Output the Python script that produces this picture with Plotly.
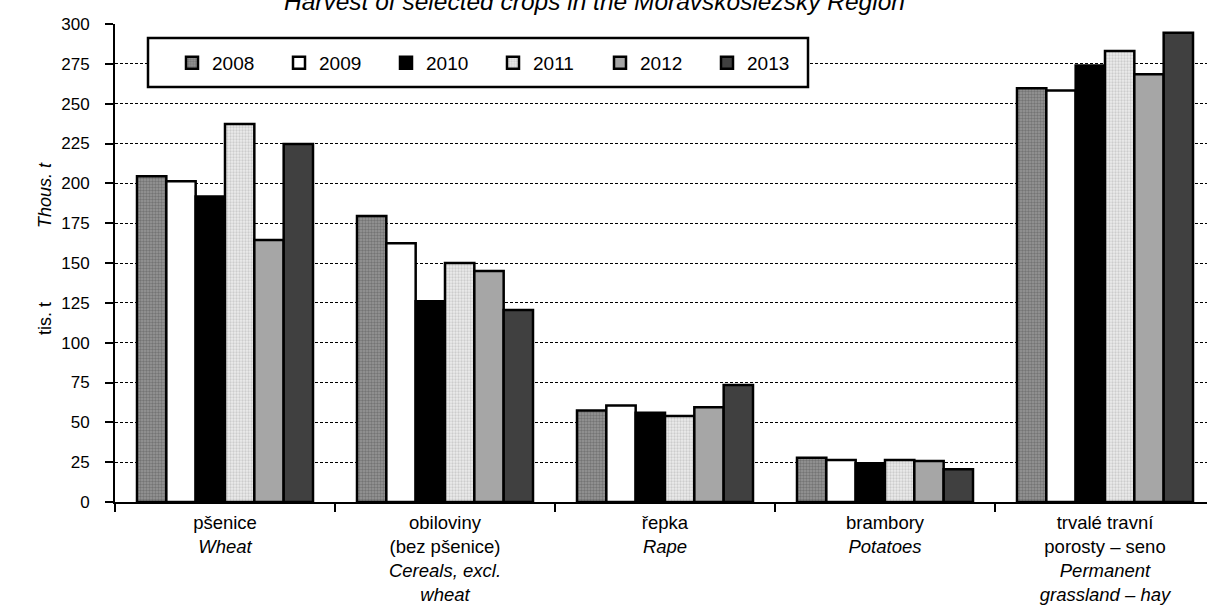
import plotly.graph_objects as go

categories = [
    "pšenice<br><i>Wheat</i>",
    "obiloviny<br>(bez pšenice)<br><i>Cereals, excl.</i><br><i>wheat</i>",
    "řepka<br><i>Rape</i>",
    "brambory<br><i>Potatoes</i>",
    "trvalé travní<br>porosty – seno<br><i>Permanent</i><br><i>grassland – hay</i>",
]
years = ["2008", "2009", "2010", "2011", "2012", "2013"]
v2008 = [204.5, 179.5, 57.5, 27.8, 259.7]
v2009 = [201.3, 162.4, 60.5, 26.4, 258.2]
v2010 = [191.7, 126.0, 56.0, 24.3, 273.9]
v2011 = [237.3, 150.0, 54.0, 26.4, 283.0]
v2012 = [164.5, 145.0, 59.5, 25.7, 268.5]
v2013 = [224.7, 120.5, 73.5, 20.5, 294.5]
series = [v2008, v2009, v2010, v2011, v2012, v2013]

styles = [
    dict(color="#8a8a8a", pattern=dict(shape=".", fgcolor="#505050", bgcolor="#989898", size=3, solidity=0.5)),
    dict(color="#ffffff"),
    dict(color="#000000"),
    dict(color="#e4e4e4", pattern=dict(shape=".", fgcolor="#acacac", bgcolor="#ececec", size=3, solidity=0.45)),
    dict(color="#a6a6a6"),
    dict(color="#404040"),
]

FONT = "Liberation Sans, Arial, sans-serif"
L, T, B, W, H = 115, 24, 106, 1207, 608
PW = W - L
PH = H - T - B

def px_x(x):
    return (x - L) / PW

def px_y(y):
    return (H - B - y) / PH

fig = go.Figure()
for y, vals, st in zip(years, series, styles):
    marker = dict(color=st["color"], line=dict(color="black", width=2.5))
    if "pattern" in st:
        marker["pattern"] = st["pattern"]
    fig.add_trace(go.Bar(name=y, x=categories, y=vals, marker=marker))

fig.update_layout(
    width=W, height=H,
    margin=dict(l=L, r=0, t=T, b=B, autoexpand=False),
    paper_bgcolor="white", plot_bgcolor="white",
    barmode="group", bargap=0.2, bargroupgap=0,
    font=dict(family=FONT, size=16, color="black"),
    showlegend=True,
    legend=dict(
        orientation="h", x=px_x(172), y=px_y(63), xanchor="left", yanchor="middle",
        entrywidth=62, entrywidthmode="pixels", itemwidth=30,
        bgcolor="rgba(0,0,0,0)", borderwidth=0,
        font=dict(family=FONT, size=19, color="black"),
        traceorder="normal",
    ),
    shapes=[dict(type="rect", xref="paper", yref="paper",
                 x0=px_x(148), x1=px_x(808), y0=px_y(87), y1=px_y(38),
                 line=dict(color="black", width=2.5), fillcolor="white", layer="above")],
    annotations=[
        dict(text="<i>Harvest of selected crops in the Moravskoslezský Region</i>",
             xref="paper", yref="paper", x=px_x(594), y=1, yanchor="middle",
             xanchor="center", yshift=T - 1, showarrow=False,
             font=dict(family=FONT, size=24.5, color="black")),
        dict(text="tis. t", xref="paper", yref="paper", x=px_x(45), xanchor="center",
             y=px_y(319), yanchor="middle", textangle=-90, showarrow=False,
             font=dict(family=FONT, size=18, color="black")),
        dict(text="<i>Thous. t</i>", xref="paper", yref="paper", x=px_x(45), xanchor="center",
             y=px_y(195), yanchor="middle", textangle=-90, showarrow=False,
             font=dict(family=FONT, size=18, color="black")),
    ],
)

fig.update_xaxes(
    range=[-0.5, -0.5 + PW / 220], automargin=False,
    showline=True, linecolor="black", linewidth=2,
    tickson="boundaries", ticks="outside", ticklen=8, tickcolor="black", tickwidth=1.5,
    showgrid=False, tickfont=dict(family=FONT, size=18.5),
    tickangle=0, ticklabelstandoff=3,
)
fig.update_yaxes(
    range=[0, 300], tick0=0, dtick=25, automargin=False,
    showline=True, linecolor="black", linewidth=2,
    ticks="outside", ticklen=8, tickcolor="black", tickwidth=1.5,
    showgrid=True, gridcolor="black", gridwidth=1, griddash="3px,2px",
    zeroline=False, tickfont=dict(family=FONT, size=17),
    ticklabelstandoff=12,
)

fig.write_html("out.html", config={"displayModeBar": False},
               post_script="document.body.style.margin='0';document.body.style.overflow='hidden';")
